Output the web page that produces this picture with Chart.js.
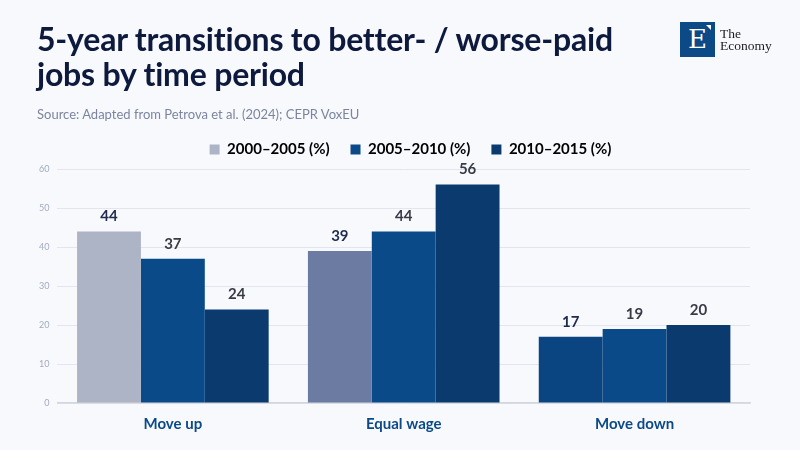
<!DOCTYPE html>
<html>
<head>
<meta charset="UTF-8">
<title>5-year transitions</title>
<script src="https://cdn.jsdelivr.net/npm/chart.js"></script>
<style>
  html, body { margin: 0; padding: 0; background: #f8f9fd; }
  #wrap { position: relative; width: 800px; height: 450px; overflow: hidden; }
  h1 { position: absolute; left: 37px; top: 21px; margin: 0; font: 700 32px/35px Lato, sans-serif; color: #0d1a3d; letter-spacing: -0.2px; }
  .src { position: absolute; left: 37px; top: 106px; font: 13px Lato, sans-serif; color: #7c859f; }
  .logo { position: absolute; left: 680px; top: 22px; }
  .logo .sq { position: absolute; left: 0; top: 0; width: 35px; height: 35px; background: #0b4a87; color: #fff; font: 26px/35px "DejaVu Serif", serif; text-align: center; }
  .logo .sq:after { content: ""; position: absolute; right: 4px; top: 3px; border-top: 5px solid #fff; border-left: 5px solid transparent; }
  .logo .tx { position: absolute; left: 40px; top: 6px; font: 13.5px/12px "Liberation Serif", serif; color: #1c1c22; white-space: nowrap; }
  canvas { position: absolute; left: 0; top: 0; }
</style>
</head>
<body>
<div id="wrap">
  <canvas id="chart" width="800" height="450"></canvas>
  <h1>5-year transitions to better- / worse-paid<br>jobs by time period</h1>
  <div class="src">Source: Adapted from Petrova et al. (2024); CEPR VoxEU</div>
  <div class="logo"><div class="sq">E</div><div class="tx">The<br>Economy</div></div>
</div>
<script>
  // данные
  var categories = ['Move up', 'Equal wage', 'Move down'];
  var seriesNames = ['2000–2005 (%)', '2005–2010 (%)', '2010–2015 (%)'];
  var p2000 = [44, 39, 17];
  var p2005 = [37, 44, 19];
  var p2010 = [24, 56, 20];
  var yTicks = [0, 10, 20, 30, 40, 50, 60];

  // подписи над столбцами
  var valueLabels = {
    id: 'valueLabels',
    afterDatasetsDraw: function (chart) {
      var ctx = chart.ctx;
      ctx.save();
      ctx.font = '700 15px Lato, sans-serif';
      ctx.textAlign = 'center';
      ctx.textBaseline = 'middle';
      chart.data.datasets.forEach(function (ds, i) {
        chart.getDatasetMeta(i).data.forEach(function (bar, j) {
          ctx.fillStyle = i === 0 ? '#1f2b4e' : '#383c46';
          ctx.fillText(ds.data[j], bar.x, bar.y - 15);
        });
      });
      ctx.restore();
    }
  };

  // сдвиг легенды немного вправо и вверх, как в оригинале
  var legendShift = {
    id: 'legendShift',
    afterLayout: function (chart) {
      chart.legend.left += 20;
      chart.legend.right += 20;
      chart.legend.top -= 2;
      chart.legend.bottom -= 2;
    }
  };

  var legendColors = ['#adb4c6', '#0b4a89', '#0a3a6e'];

  new Chart('chart', {
    type: 'bar',
    data: {
      labels: categories,
      datasets: [
        { label: seriesNames[0], data: p2000, backgroundColor: ['#adb4c6', '#6b7ba1', '#0a4582'] },
        { label: seriesNames[1], data: p2005, backgroundColor: '#0b4a89' },
        { label: seriesNames[2], data: p2010, backgroundColor: '#0a3a6e' }
      ]
    },
    options: {
      responsive: false,
      animation: false,
      layout: { padding: { top: 134, left: 31, right: 50, bottom: 5 } },
      datasets: { bar: { categoryPercentage: 0.83, barPercentage: 1.0, borderWidth: 0 } },
      plugins: {
        tooltip: { enabled: false },
        legend: {
          position: 'top',
          labels: {
            boxWidth: 10,
            boxHeight: 10,
            padding: 10,
            color: '#1a2238',
            font: { family: 'Lato, sans-serif', size: 15, weight: '700' },
            generateLabels: function (chart) {
              return chart.data.datasets.map(function (ds, i) {
                return {
                  text: ds.label + (i < 2 ? '   ' : ''),
                  fillStyle: legendColors[i],
                  strokeStyle: legendColors[i],
                  lineWidth: 0,
                  datasetIndex: i
                };
              });
            }
          }
        }
      },
      scales: {
        x: {
          grid: { display: false, drawTicks: false },
          border: { display: true, color: '#d3d6de', width: 1.5 },
          ticks: { padding: 12, color: '#0b4a87', font: { family: 'Lato, sans-serif', size: 15, weight: '700' } }
        },
        y: {
          min: 0,
          max: 60,
          afterBuildTicks: function (axis) {
            axis.ticks = yTicks.map(function (v) { return { value: v }; });
          },
          grid: { color: '#e2e5ed', drawTicks: false },
          border: { display: false },
          ticks: { padding: 8, color: '#a3abc2', font: { family: 'Lato, sans-serif', size: 9 } }
        }
      }
    },
    plugins: [valueLabels, legendShift]
  });
</script>
</body>
</html>
